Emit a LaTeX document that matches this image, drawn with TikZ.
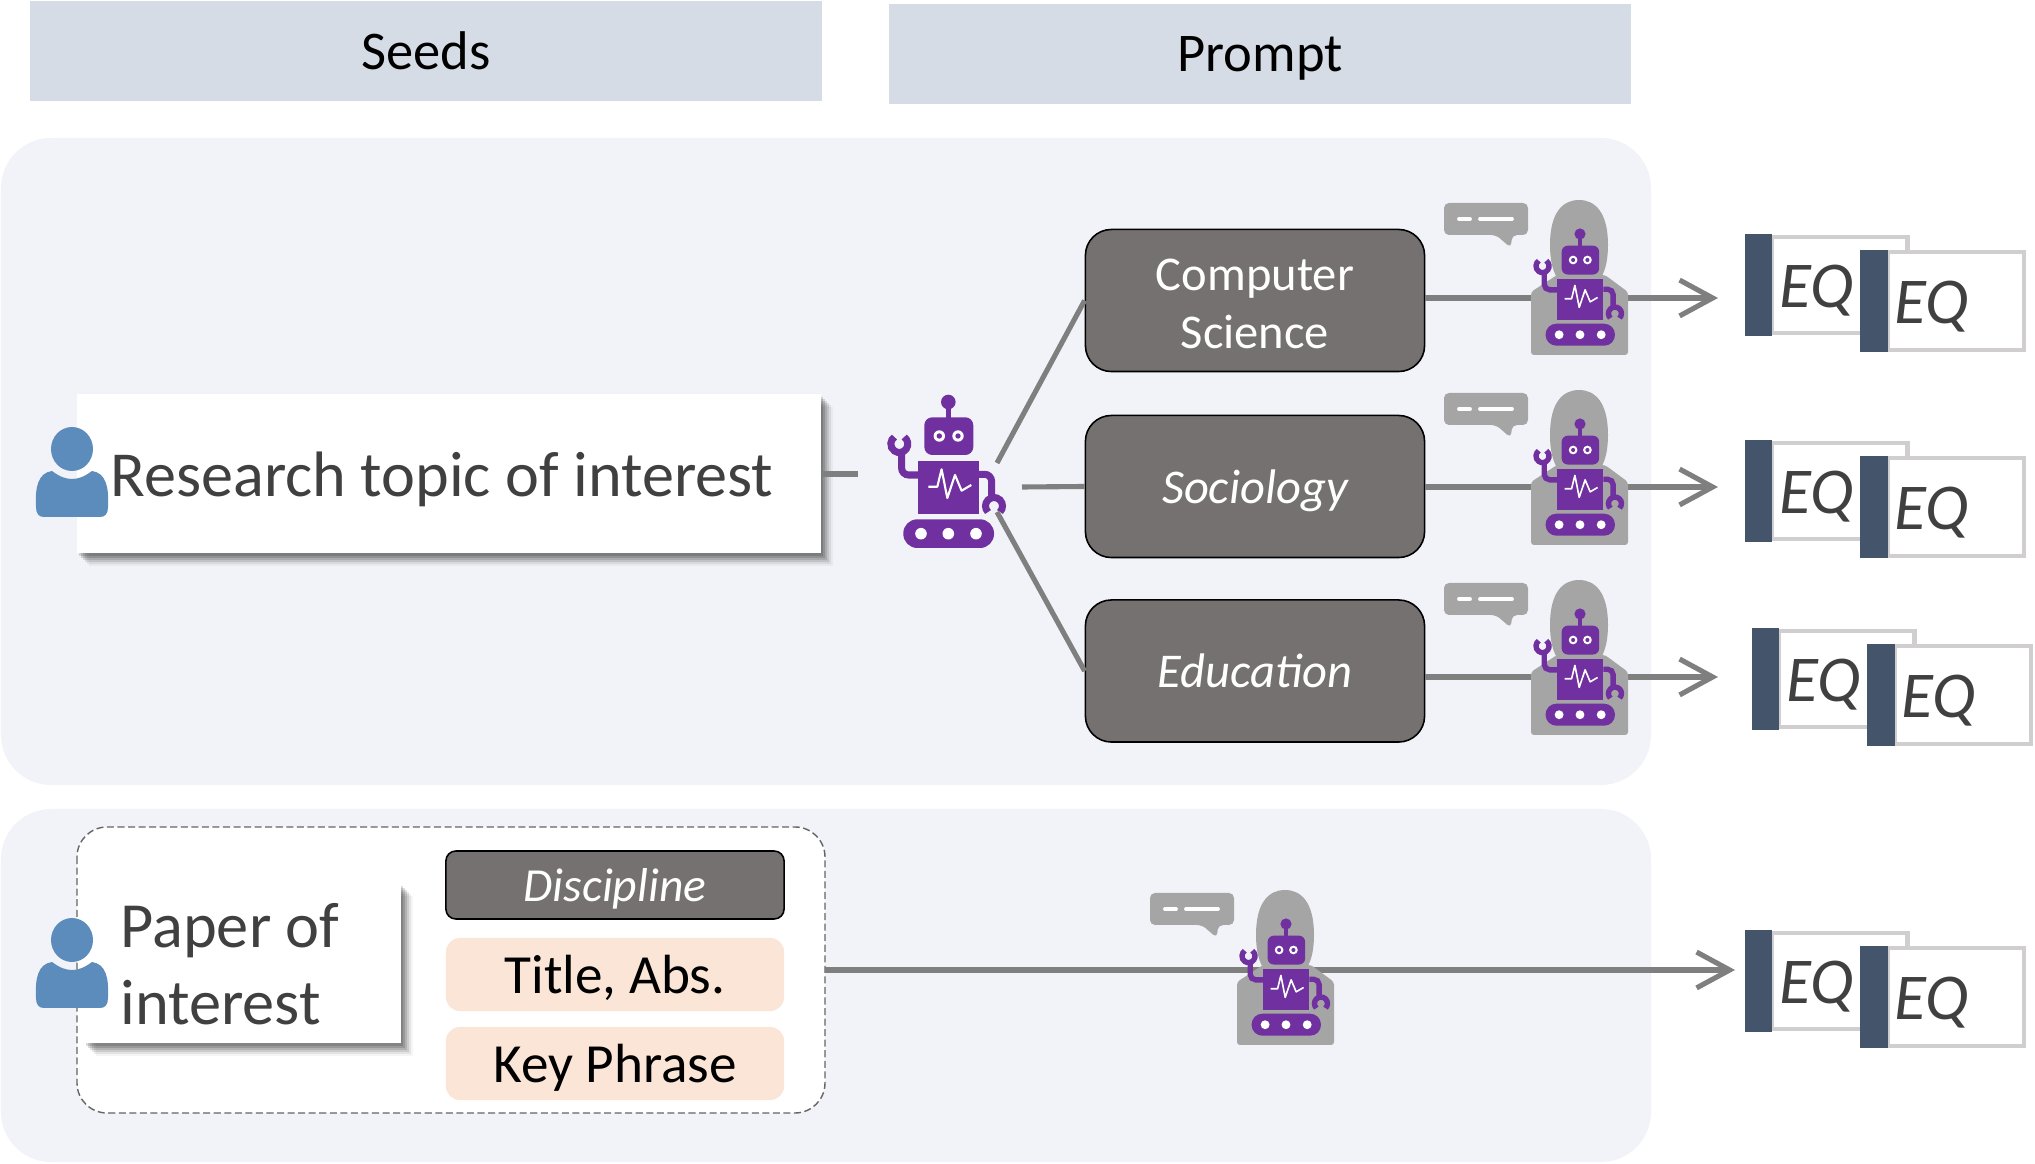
\documentclass[tikz,border=0pt]{standalone}
\usepackage{fontspec}
\setmainfont{Carlito}
\usetikzlibrary{arrows.meta,shadows}
\definecolor{panelbg}{HTML}{F1F3F8}
\definecolor{headbg}{HTML}{D6DCE5}
\definecolor{boxgray}{HTML}{767171}
\definecolor{peach}{HTML}{FBE5D6}
\definecolor{barblue}{HTML}{44546A}
\definecolor{framegray}{HTML}{D0CECE}
\definecolor{busygray}{HTML}{A6A5A5}
\definecolor{robotpurple}{HTML}{7030A0}
\definecolor{userblue}{HTML}{5B8CBB}
\definecolor{linkgray}{HTML}{7F7F7F}
\definecolor{textgray}{HTML}{404040}
\tikzset{
    panel/.style={fill=panelbg, rounded corners=.5cm},
    headbox/.style={fill=headbg, minimum height=.99cm, font=\fontsize{15.5}{18}\selectfont},
    papersheet/.style={fill=white,
        drop shadow={shadow xshift=.02cm,shadow yshift=-.03cm,opacity=.14,fill=black},
        drop shadow={shadow xshift=.04cm,shadow yshift=-.05cm,opacity=.14,fill=black},
        drop shadow={shadow xshift=.06cm,shadow yshift=-.07cm,opacity=.12,fill=black},
        drop shadow={shadow xshift=.08cm,shadow yshift=-.09cm,opacity=.10,fill=black},
        drop shadow={shadow xshift=.10cm,shadow yshift=-.11cm,opacity=.07,fill=black},
        drop shadow={shadow xshift=.12cm,shadow yshift=-.13cm,opacity=.04,fill=black}},
    areabox/.style={fill=boxgray, draw=black, line width=.45pt, rounded corners=.26cm, text=white,
        minimum width=3.39cm, minimum height=1.42cm, align=center, font=\fontsize{13.8}{16.6}\selectfont},
    peachbox/.style={fill=peach, rounded corners=.14cm, minimum width=3.38cm, minimum height=.73cm, text depth=0pt, font=\fontsize{15.7}{18}\selectfont},
    link/.style={linkgray, line width=1.45pt},
    linkarrow/.style={link, -{Straight Barb[length=9.4pt,width=10.2pt]}},
    pics/robot/.style={code={
        \begin{scope}[scale=#1, fill=robotpurple]
            \fill (0,-68) circle (7.3);
            \fill (-2.5,-68) rectangle (2.5,-50);
            \fill[rounded corners=#1*.08cm] (-24,-52.7) rectangle (25,-15);
            \fill[white] (-9,-34) circle (5.7) (9.7,-34) circle (5.7);
            \fill (-9,-34) circle (2.7) (9.7,-34) circle (2.7);
            \fill (-30,-9.3) rectangle (30.7,44);
            \draw[white, line width=#1*.6pt, line join=round] (-20,16.7) -- (-11,16.7) -- (-6.7,-.7) -- (-1,28) -- (6.7,5) -- (13.3,20.7) -- (23,15);
            \fill[rounded corners=#1*.14cm] (-45,49.3) rectangle (45.7,78);
            \fill[white] (-27.3,63.7) circle (5.8) (0,63.7) circle (5.8) (27.7,63.7) circle (5.8);
            \draw[robotpurple, line width=#1*2pt, rounded corners=#1*.07cm] (-30,5) -- (-46.7,5) -- (-46.7,-18);
            \draw[robotpurple, line width=#1*2pt, rounded corners=#1*.07cm] (30.7,4.3) -- (43.3,4.3) -- (43.3,26.7);
            \draw[robotpurple, line width=#1*2pt] ([shift={(-55:8.5)}]-49,-26) arc[start angle=-55,end angle=235,radius=8.5];
            \draw[robotpurple, line width=#1*2pt] ([shift={(135:8.5)}]45.7,36) arc[start angle=135,end angle=405,radius=8.5];
        \end{scope}
    }},
    pics/thinker/.style={code={
        \fill[busygray] (-30,-41) .. controls (-30,-74) and (-17,-86) .. (-1,-86) .. controls (15,-86) and (28,-74) .. (28,-41) .. controls (28,-8) and (15,4) .. (-1,4) .. controls (-17,4) and (-30,-8) .. (-30,-41) -- cycle;
        \fill[busygray, rounded corners=.03cm] (-49,69) -- (-49,6) -- (-23,-11) -- (25,-11) -- (48,6) -- (48,69) -- cycle;
        \fill[busygray, rounded corners=.05cm] (-136,-83) -- (-52,-83) -- (-52,-51) -- (-68,-51) -- (-69,-38) -- (-84,-51) -- (-136,-51) -- cycle;
        \draw[white, line width=1.1pt, line cap=round] (-121,-67) -- (-110,-67) (-100,-67) -- (-68,-67);
        \pic {robot=.765};
    }},
    pics/user/.style={code={
        \fill[userblue] (0,22) ellipse (21 and 22);
        \fill[userblue] (-36,80) .. controls (-37,60) and (-34,46) .. (-20,44) .. controls (-12,50) and (-6,52) .. (0,52) .. controls (6,52) and (12,50) .. (20,44) .. controls (34,46) and (37,60) .. (36,80) .. controls (36,87) and (33,90) .. (28,90) -- (-28,90) .. controls (-33,90) and (-36,87) .. (-36,80) -- cycle;
    }},
    pics/eqpair/.style={code={
        \draw[framegray, line width=1.4pt, fill=white] (27,3) rectangle (162.5,99);
        \fill[barblue] (0,0) rectangle (27,102);
        \node[text=textgray, font=\fontsize{18.6}{20}\itshape\selectfont] (first) at (72,57) {EQ};
        \draw[framegray, line width=1.4pt, fill=white] (143,18) rectangle (279,116);
        \fill[barblue] (115,16) rectangle (143,118);
        \node[text=textgray, font=\fontsize{18.6}{20}\itshape\selectfont] (second) at (187,73) {EQ};
    }},
}
\begin{document}
\begin{tikzpicture}[x=.01cm,y=-.01cm]
    \useasboundingbox (0,0) rectangle (2035,1164);
    % column heads
    \node[headbox, minimum width=7.92cm] (seeds) at (426,51) {Seeds};
    \node[headbox, minimum width=7.41cm, text depth=0pt] (prompt) at (1260,54) {Prompt};
    % the two panels
    \fill[panel] (1,138) rectangle (1651,785);
    \fill[panel] (1,809) rectangle (1651,1162);
    % upper panel
    \node[papersheet, minimum width=7.44cm, minimum height=1.59cm] (topic) at (449,473.5) {};
    \node[text=textgray, font=\fontsize{18.25}{20}\selectfont] (topictext) at (442,479) {Research topic of interest};
    \pic (topicuser) at (72,427) {user};
    \pic (planner) at (948.3,470) {robot=1};
    \node[areabox] (cs) at (1255,300.5) {\rule{0pt}{.78em}Computer\\Science};
    \node[areabox, text depth=0pt] (soc) at (1255,486.5) {\itshape Sociology};
    \node[areabox] (edu) at (1255,671) {\itshape Education};
    \coordinate (topicend) at (858,474);
    \coordinate (fanup) at (997,463);
    \coordinate (fanmid) at (1022,487);
    \coordinate (fandown) at (997,512);
    \draw[link] (topic.east |- topicend) -- (topicend);
    \draw[link] (fanup) -- (cs.west);
    \draw[link] (fanmid) -- (soc.west);
    \draw[link] (fandown) -- (edu.west);
    \coordinate (csend) at (1718,298);
    \coordinate (socend) at (1718,487);
    \coordinate (eduend) at (1718,677);
    \draw[linkarrow] (cs.east |- csend) -- (csend);
    \draw[linkarrow] (soc.east |- socend) -- (socend);
    \draw[linkarrow] (edu.east |- eduend) -- (eduend);
    \pic (csbot) at (1580,286) {thinker};
    \pic (socbot) at (1580,476) {thinker};
    \pic (edubot) at (1580,666) {thinker};
    \pic (eqcs) at (1745,234) {eqpair};
    \pic (eqsoc) at (1745,440) {eqpair};
    \pic (eqedu) at (1752,628) {eqpair};
    % lower panel
    \draw[linkgray!80!black, line width=.4pt, dash pattern=on 2pt off 1pt, fill=white, rounded corners=.3cm] (77,827) rectangle (825,1113);
    \node[papersheet, minimum width=3.17cm, minimum height=1.6cm] (paper) at (242.5,963) {};
    \node[text=textgray, align=left, font=\fontsize{18.3}{22}\selectfont] (papertext) at (230,964) {Paper of\\interest};
    \pic (paperuser) at (72,918) {user};
    \node[areabox, minimum width=3.38cm, minimum height=.68cm, rounded corners=.1cm, font=\fontsize{13.5}{16}\selectfont, text depth=0pt] (disc) at (615,885) {\itshape Discipline};
    \node[peachbox] (title) at (615,974.5) {Title, Abs.};
    \node[peachbox] (phrase) at (615,1063.5) {Key Phrase};
    \coordinate (paperend) at (1735,970);
    \draw[linkarrow] (825,970) -- (paperend);
    \pic (paperbot) at (1286,976) {thinker};
    \pic (eqpaper) at (1745,930) {eqpair};
\end{tikzpicture}
\end{document}
